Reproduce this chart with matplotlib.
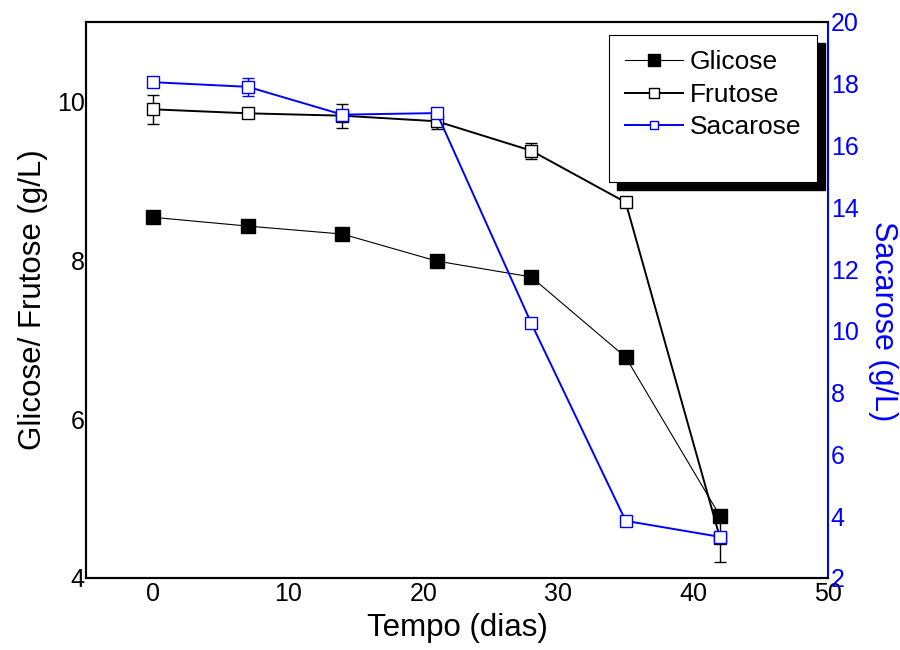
import matplotlib
matplotlib.use("Agg")
import matplotlib.pyplot as plt
from matplotlib.patches import Rectangle
import numpy as np

plt.rcParams['font.family'] = ['Liberation Sans', 'DejaVu Sans']

# dados (dias)
tempo = [0, 7, 14, 21, 28, 35, 42]
glicose = [8.54, 8.43, 8.33, 7.99, 7.79, 6.78, 4.78]
frutose = [9.90, 9.85, 9.82, 9.75, 9.38, 8.73, 4.50]
frutose_err = [0.18, 0.04, 0.15, 0.1, 0.1, 0.02, 0.3]
sacarose = [18.05, 17.9, 17.0, 17.05, 10.25, 3.85, 3.33]
sacarose_err = [0.07, 0.3, 0.07, 0.07, 0.07, 0.07, 0.02]

xticks = [0, 10, 20, 30, 40, 50]
yticks_left = [4, 6, 8, 10]
yticks_right = list(range(2, 21, 2))

fig = plt.figure(figsize=(9, 6.5), dpi=100)
ax = fig.add_axes([0.0956, 0.1108, 0.8244, 0.8554])
ax2 = ax.twinx()

l1, = ax.plot(tempo, glicose, '-', color='k', lw=0.8, marker='s', ms=10,
              mfc='k', mec='k', label='Glicose', zorder=3)
eb1 = ax.errorbar(tempo, frutose, yerr=frutose_err, fmt='-', color='k', lw=1.4,
                  marker='s', ms=9, mfc='white', mec='k', mew=1.0,
                  ecolor='k', elinewidth=1.0, capsize=4.5, capthick=1.0,
                  label='Frutose', zorder=4)
eb2 = ax2.errorbar(tempo, sacarose, yerr=sacarose_err, fmt='-', color='#0000ff', lw=1.4,
                   marker='s', ms=8, mfc='white', mec='#0000ff', mew=1.0,
                   ecolor='#0000ff', elinewidth=1.0, capsize=4, capthick=1.0,
                   label='Sacarose', zorder=4)

ax.set_xlim(-5, 50)
ax.set_ylim(4, 11)
ax2.set_ylim(2, 20)
ax.set_xticks(xticks)
ax.set_yticks(yticks_left)
ax2.set_yticks(yticks_right)

ax.tick_params(axis='both', length=0, labelsize=18, pad=3)
ax.tick_params(axis='y', pad=1)
ax2.tick_params(axis='y', length=0, labelsize=18, pad=2, colors='#0000ff')

for s in ['left', 'bottom', 'top']:
    ax.spines[s].set_linewidth(1.5)
    ax2.spines[s].set_linewidth(1.5)
ax.spines['right'].set_visible(False)
ax2.spines['right'].set_color('#0000ff')
ax2.spines['right'].set_linewidth(1.5)

ax.set_xlabel('Tempo (dias)', fontsize=22.5, labelpad=5)
ax.set_ylabel('Glicose/ Frutose (g/L)', fontsize=22.5, labelpad=6)
ax2.set_ylabel('Sacarose (g/L)', fontsize=22, color='#0000ff', rotation=270,
               labelpad=26)
ax2.yaxis.set_label_coords(1.094, 0.462)

# caixa da legenda com sombra
sh = Rectangle((0.716, 0.698), 0.28, 0.265, transform=ax2.transAxes,
               facecolor='k', edgecolor='k', zorder=8, clip_on=False)
bx = Rectangle((0.705, 0.712), 0.28, 0.265, transform=ax2.transAxes,
               facecolor='white', edgecolor='k', lw=0.8, zorder=9, clip_on=False)
ax2.add_patch(sh)
ax2.add_patch(bx)

handles = [l1, eb1[0], eb2[0]]
labels = ['Glicose', 'Frutose', 'Sacarose']
leg = ax2.legend(handles, labels, loc='upper left',
                 bbox_to_anchor=(0.726, 0.949), frameon=False, fontsize=19,
                 handlelength=2.2, handletextpad=0.27, labelspacing=0.32,
                 borderpad=0, borderaxespad=0, markerscale=0.8)
leg.set_zorder(10)

fig.savefig('out.png', dpi=100)
